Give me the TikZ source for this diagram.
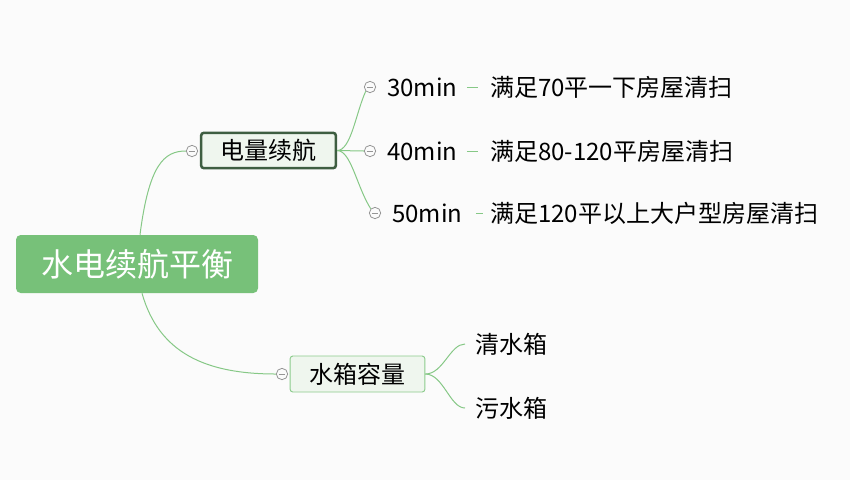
\documentclass[tikz,border=0pt]{standalone}
\usepackage{fontspec}
\setmainfont{Noto Sans CJK SC}
\usetikzlibrary{calc}
\definecolor{bg}{HTML}{FBFBFB}
\definecolor{rootfill}{HTML}{77C179}
\definecolor{darkg}{HTML}{3E5E41}
\definecolor{paleg}{HTML}{EFF6EE}
\definecolor{lineg}{HTML}{86C886}
\definecolor{boxg}{HTML}{8CCB8C}
\definecolor{cgray}{HTML}{959595}
\tikzset{
  rootbox/.style={rectangle, rounded corners=3.5pt, fill=rootfill, text=white,
    minimum width=181.5pt, minimum height=43.5pt, inner sep=0pt, font=\fontsize{24pt}{28pt}\selectfont},
  mainbox/.style={rectangle, rounded corners=2pt, fill=paleg, draw=darkg, line width=1.9pt,
    minimum width=101pt, minimum height=26.5pt, inner sep=0pt, font=\fontsize{18pt}{22pt}\selectfont},
  subbox/.style={rectangle, rounded corners=2pt, fill=paleg, draw=boxg, line width=0.7pt,
    minimum width=101pt, minimum height=27pt, inner sep=0pt, font=\fontsize{18pt}{22pt}\selectfont},
  txt/.style={inner sep=0pt, font=\fontsize{18pt}{22pt}\selectfont},
  fold/.style={circle, draw=cgray, fill=bg, line width=0.6pt, minimum size=8.5pt, inner sep=0pt,
    path picture={\draw[cgray, line width=0.6pt] ([xshift=-2.6pt]path picture bounding box.center) -- ([xshift=2.6pt]path picture bounding box.center);}},
  conn/.style={draw=lineg, line width=0.75pt},
}
\begin{document}
\begin{tikzpicture}[x=0.75pt,y=-0.75pt]
\fill[bg] (0,0) rectangle (850,480);
\useasboundingbox (0,0) rectangle (850,480);

% nodes
\node[rootbox] (root) at (137,264) {水电续航平衡};
\node[mainbox] (elec) at (268.5,150.5) {电量续航};
\node[subbox] (water) at (357.5,374) {水箱容量};

\node[fold] (f0) at (192,151) {};
\node[fold] (f1) at (282,374) {};
\node[fold] (f30) at (370,87) {};
\node[fold] (f40) at (370,151) {};
\node[fold] (f50) at (375,213) {};

\node[txt, anchor=west] (m30) at (387,87) {30min};
\node[txt, anchor=west] (m40) at (387,151) {40min};
\node[txt, anchor=west] (m50) at (392,213) {50min};

\node[txt, anchor=west] (l30) at (490,87) {满足70平一下房屋清扫};
\node[txt, anchor=west] (l40) at (490,151) {满足80-120平房屋清扫};
\node[txt, anchor=west] (l50) at (490,213) {满足120平以上大户型房屋清扫};

\node[txt, anchor=west] (q) at (475,344) {清水箱};
\node[txt, anchor=west] (w) at (475,408) {污水箱};

% connectors
\draw[conn] ($(root.north)+(3,0)$) .. controls ($(root.north)+(12,-70)$) and ($(f0.west)+(-22,0)$) .. (f0.west);
\draw[conn] ($(root.south)+(5,0)$) .. controls ($(root.south)+(22,60)$) and ($(f1.west)+(-70,0)$) .. (f1.west);

\draw[conn] (elec.east) .. controls ($(elec.east)+(14,0)$) and ($(f30.south west)+(-10,22)$) .. (f30.south west);
\draw[conn] (elec.east) -- (f40.west);
\draw[conn] (elec.east) .. controls ($(elec.east)+(14,0)$) and ($(f50.north west)+(-14,-22)$) .. (f50.north west);

\draw[conn, shorten <=7pt, shorten >=9pt] (m30.east) -- (l30.west);
\draw[conn, shorten <=7pt, shorten >=9pt] (m40.east) -- (l40.west);
\draw[conn, shorten <=10pt, shorten >=5.5pt] (m50.east) -- (l50.west);

\draw[conn] (water.east) .. controls ($(water.east)+(18,0)$) and ($(q.west)+(-25,0)$) .. ($(q.west)+(-10,0)$);
\draw[conn] (water.east) .. controls ($(water.east)+(18,0)$) and ($(w.west)+(-25,0)$) .. ($(w.west)+(-10,0)$);
\end{tikzpicture}
\end{document}
